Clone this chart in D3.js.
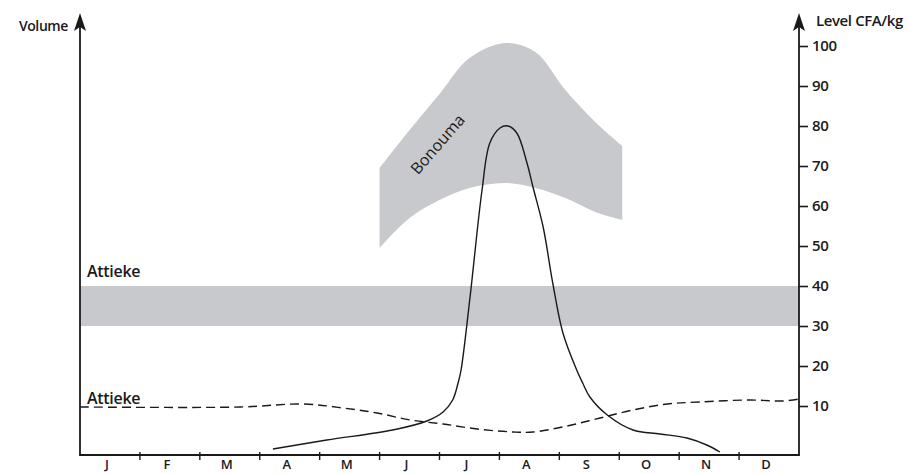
<!DOCTYPE html>
<html>
<head>
<meta charset="utf-8">
<script src="https://cdn.jsdelivr.net/npm/d3@7"></script>
<style>
  html, body { margin: 0; padding: 0; background: #fff; }
  svg { display: block; }
  text { font-family: "Open Sans", "Noto Sans", sans-serif; fill: #1a1a1a; }
</style>
</head>
<body>
<svg id="chart" width="910" height="474"></svg>
<script>
// ---------------- data ----------------
const monthLabels = ["J","F","M","A","M","J","J","A","S","O","N","D"];
const levelTicks = [10,20,30,40,50,60,70,80,90,100];

// Attieke price band (CFA/kg)
const attiekeBand = [30, 40];

// Bonouma price band (CFA/kg), x in months from start of January
const bonoumaMonth = [5.0, 5.5, 6.0, 6.5, 7.1, 7.6, 8.1, 8.6, 9.05];
const bonoumaHigh  = [69.5, 79, 88, 97, 100.75, 98.5, 89, 81, 75];
const bonoumaLow   = [49.5, 57, 61.5, 64.5, 65.75, 64.5, 62, 58.5, 56.5];

// Bonouma volume (solid line), arbitrary units
const bonoumaVolMonth = [3.22,4.12,5.22,5.79,6.06,6.22,6.31,6.36,6.51,6.71,6.84,7.01,7.14,7.29,7.46,7.56,7.73,7.89,8.06,8.29,8.39,8.51,8.80,9.23,9.68,10.13,10.46,10.68];
const bonoumaVol      = [1.5,3.75,6.25,8.5,10.75,13.75,18,21.25,39.5,66.25,78,81.75,82.25,80.5,73,67,57,43,30.5,21.25,18,14.5,10,6.25,5.25,4.25,2.5,0.75];

// Attieke volume (dashed line), arbitrary units
const attiekeVolMonth = [0, 2.67, 3.72, 4.39, 4.96, 5.51, 6.06, 6.63, 7.23, 7.56, 8.13, 8.68, 9.23, 9.80, 10.35, 11.18, 11.73, 12];
const attiekeVol      = [12, 12, 12.75, 11.75, 10.5, 8.75, 7.75, 6.5, 5.75, 5.75, 7.25, 9.25, 11.25, 12.75, 13.25, 13.75, 13.5, 14];

// ---------------- layout ----------------
const svg = d3.select("#chart");
const left = 80, right = 799, bottom = 455, axisTop = 13;

const x = d3.scaleLinear().domain([0, 12]).range([left, right]);
const yLevel = d3.scaleLinear().domain([0, 100]).range([446, 46]);
const yVol = d3.scaleLinear().domain([0, 100]).range([bottom, 55]);
const xBand = d3.scaleBand().domain(d3.range(12)).range([left, right]);

const bandColor = "#c8c9cc";
const ink = "#1a1a1a";

// Attieke band
svg.append("rect")
  .attr("x", x(0)).attr("width", x(12) - x(0))
  .attr("y", yLevel(attiekeBand[1]))
  .attr("height", yLevel(attiekeBand[0]) - yLevel(attiekeBand[1]))
  .attr("fill", bandColor);

// Bonouma band
const bonData = bonoumaMonth.map((m, i) => ({m, hi: bonoumaHigh[i], lo: bonoumaLow[i]}));
svg.append("path")
  .datum(bonData)
  .attr("d", d3.area().x(d => x(d.m)).y0(d => yLevel(d.lo)).y1(d => yLevel(d.hi)).curve(d3.curveCatmullRom.alpha(0.5)))
  .attr("fill", bandColor);

// Bonouma label (rotated along band)
svg.append("text")
  .attr("transform", `translate(${x(6.04)},${yLevel(74.5)}) rotate(-49)`)
  .attr("text-anchor", "middle")
  .style("font-size", "16px")
  .style("font-weight", 400)
  .text("Bonouma");

// Bonouma volume line
const volData = bonoumaVolMonth.map((m, i) => ({m, v: bonoumaVol[i]}));
svg.append("path")
  .datum(volData)
  .attr("d", d3.line().x(d => x(d.m)).y(d => yVol(d.v)).curve(d3.curveCatmullRom.alpha(0.5)))
  .attr("fill", "none").attr("stroke", ink).attr("stroke-width", 1.4);

// Attieke volume line (dashed)
const attData = attiekeVolMonth.map((m, i) => ({m, v: attiekeVol[i]}));
svg.append("path")
  .datum(attData)
  .attr("d", d3.line().x(d => x(d.m)).y(d => yVol(d.v)).curve(d3.curveCatmullRom.alpha(0.5)))
  .attr("fill", "none").attr("stroke", ink).attr("stroke-width", 1.4)
  .attr("stroke-dasharray", "9,5");

// Attieke labels
svg.append("text")
  .attr("x", x(0) + 7).attr("y", yLevel(attiekeBand[1]) - 9)
  .style("font-size", "16px").style("font-weight", 600)
  .style("letter-spacing", "-0.3px")
  .text("Attieke");
svg.append("text")
  .attr("x", x(0) + 7).attr("y", yVol(attiekeVol[0]) - 3)
  .style("font-size", "16px").style("font-weight", 600)
  .style("letter-spacing", "-0.3px")
  .text("Attieke");

// Axes lines
const axisG = svg.append("g").attr("stroke", ink).attr("stroke-width", 1.8).attr("fill", "none");
axisG.append("line").attr("x1", left).attr("x2", left).attr("y1", bottom).attr("y2", axisTop + 6);
axisG.append("line").attr("x1", right).attr("x2", right).attr("y1", bottom).attr("y2", axisTop + 6);
axisG.append("line").attr("x1", left - 0.9).attr("x2", right + 0.9).attr("y1", bottom).attr("y2", bottom);

// Arrow heads
function arrow(cx, tipY) {
  const p = d3.path();
  p.moveTo(cx, tipY);
  p.lineTo(cx + 6, tipY + 18);
  p.lineTo(cx, tipY + 14);
  p.lineTo(cx - 6, tipY + 18);
  p.closePath();
  svg.append("path").attr("d", p.toString()).attr("fill", ink);
}
arrow(left, axisTop);
arrow(right, axisTop);

// Right axis (level)
const rightAxis = d3.axisRight(yLevel).tickValues(levelTicks).tickSize(9).tickPadding(4);
const ra = svg.append("g").attr("transform", `translate(${right},0)`).call(rightAxis);
ra.select(".domain").remove();
ra.selectAll(".tick line").attr("stroke", ink).attr("stroke-width", 1.6);
ra.selectAll(".tick text")
  .style("font-family", "'Open Sans', sans-serif")
  .style("font-size", "15px").style("font-weight", 600)
  .style("letter-spacing", "-0.3px").attr("fill", ink);

// Bottom axis: month boundary ticks
svg.append("g").selectAll("line")
  .data(d3.range(1, 12))
  .join("line")
  .attr("x1", d => x(d)).attr("x2", d => x(d))
  .attr("y1", bottom - 3).attr("y2", bottom + 5)
  .attr("stroke", ink).attr("stroke-width", 1.4);

// Month labels
svg.append("g").selectAll("text")
  .data(monthLabels)
  .join("text")
  .attr("x", (d, i) => xBand(i) + xBand.bandwidth() / 2 - 3)
  .attr("y", bottom + 14)
  .attr("text-anchor", "middle")
  .style("font-size", "13px").style("font-weight", 600)
  .text(d => d);

// Axis titles
svg.append("text")
  .attr("x", left - 12).attr("y", 31)
  .attr("text-anchor", "end")
  .style("font-size", "14px").style("font-weight", 600)
  .style("letter-spacing", "-0.4px")
  .text("Volume");
svg.append("text")
  .attr("x", right + 17).attr("y", 26)
  .style("font-size", "15px").style("font-weight", 600)
  .style("letter-spacing", "-0.4px")
  .text("Level CFA/kg");
</script>
</body>
</html>
